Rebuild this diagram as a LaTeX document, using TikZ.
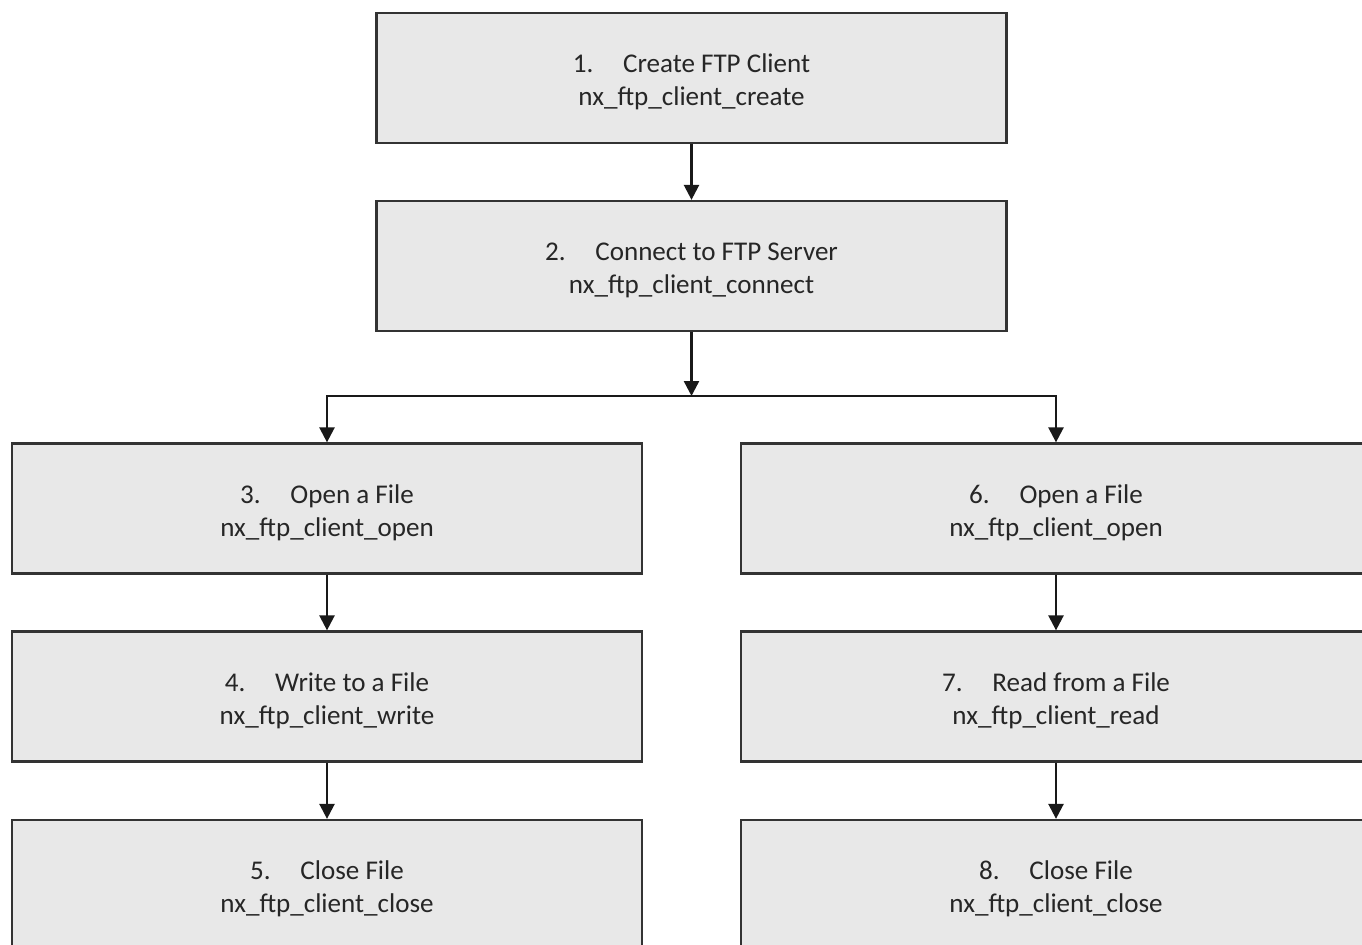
\documentclass[tikz,border=0pt]{standalone}
\usepackage{fontspec}
\setmainfont{Carlito}
\usetikzlibrary{arrows.meta}

% number, title and call name of one step
\newcommand{\steptext}[3]{\rule{0pt}{15.5pt}#1.\hspace{1.1em}#2\\#3}

\begin{document}
\begin{tikzpicture}[x=0.02cm, y=-0.02cm,
    stepbox/.style={draw=black!80, line width=1.3pt, fill=black!9,
      minimum width=12.6cm, minimum height=2.6cm, align=center,
      font=\fontsize{15.4}{18.8}\selectfont, text=black!85},
    arr/.style={-{Triangle[length=8.5pt,width=8.5pt]}, line width=1.4pt, black!90}]
    \useasboundingbox (0,0) rectangle (1362,945);
    \clip (0,0) rectangle (1362,945);
    % client setup
    \node[stepbox] (create) at (691.5,78) {\steptext{1}{Create FTP Client}{nx\_ftp\_client\_create}};
    \node[stepbox] (connect) at (691.5,266) {\steptext{2}{Connect to FTP Server}{nx\_ftp\_client\_connect}};
    \coordinate (split) at (691.5,396);
    % write branch
    \node[stepbox] (openw) at (327,508.5) {\steptext{3}{Open a File}{nx\_ftp\_client\_open}};
    \node[stepbox] (write) at (327,696.5) {\steptext{4}{Write to a File}{nx\_ftp\_client\_write}};
    \node[stepbox] (closew) at (327,885) {\steptext{5}{Close File}{nx\_ftp\_client\_close}};
    % read branch
    \node[stepbox] (openr) at (1056,508.5) {\steptext{6}{Open a File}{nx\_ftp\_client\_open}};
    \node[stepbox] (read) at (1056,696.5) {\steptext{7}{Read from a File}{nx\_ftp\_client\_read}};
    \node[stepbox] (closer) at (1056,885) {\steptext{8}{Close File}{nx\_ftp\_client\_close}};

    \draw[arr] (create) -- (connect);
    \draw[arr] (connect) -- (split);
    \draw[arr] (split) -| (openw);
    \draw[arr] (split) -| (openr);
    \draw[arr] (openw) -- (write);
    \draw[arr] (write) -- (closew);
    \draw[arr] (openr) -- (read);
    \draw[arr] (read) -- (closer);
\end{tikzpicture}
\end{document}
